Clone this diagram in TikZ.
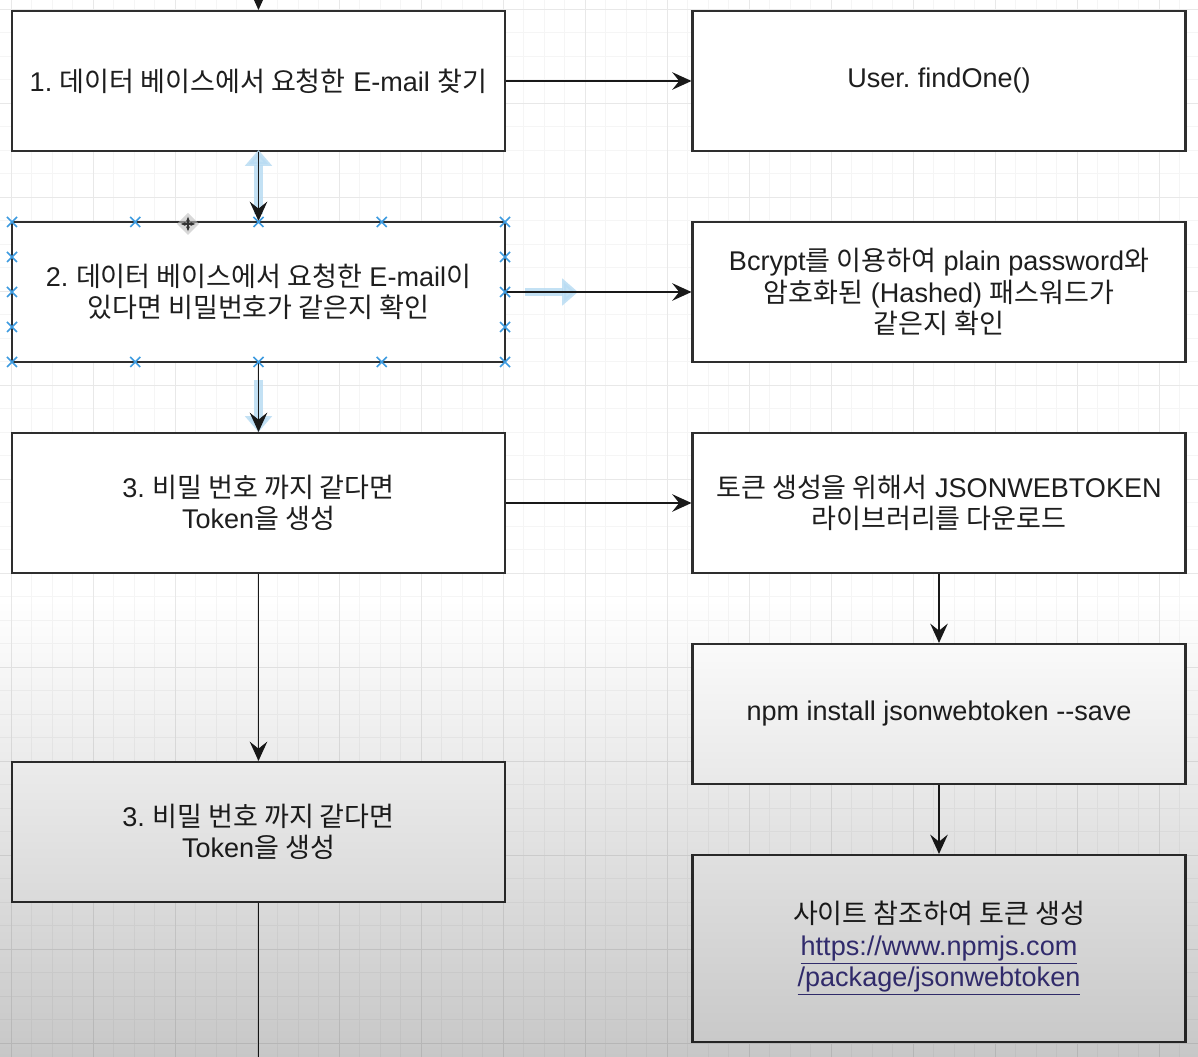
\documentclass[tikz,border=0pt]{standalone}
\usepackage{fontspec}
\setmainfont{Liberation Sans}
\newfontfamily\kr{Noto Sans CJK KR}
\newcommand\ko[1]{{\kr #1}}
\newcommand\weblink[1]{\textcolor{linkcol}{\underline{#1}}}
\usetikzlibrary{arrows.meta,positioning,fadings}
\definecolor{linkcol}{HTML}{3B3482}
\definecolor{edgecol}{HTML}{2E2E2E}
\definecolor{textcol}{HTML}{1E1E1E}
\definecolor{selcol}{HTML}{3D9BE0}
\definecolor{hintcol}{HTML}{B9DCF3}
\frenchspacing
\tikzset{
    box/.style={draw=edgecol, line width=1.2pt, fill=white, align=center, text=textcol,
        minimum width=9.86cm, minimum height=2.8cm, inner sep=0pt,
        font=\fontsize{15.4pt}{17.9pt}\selectfont},
    arr/.style={draw=black!90, line width=0.9pt, -{Stealth[length=11pt,width=10pt,inset=4pt]}},
    hint/.style={draw=hintcol, line width=5pt, opacity=0.85, -{Triangle[length=9pt,width=15pt]}},
    handle/.style={draw=selcol, line width=0.9pt}
}
\begin{document}
\begin{tikzpicture}[x=0.02cm, y=-0.02cm]
    \useasboundingbox (0,0) rectangle (1198,1057);
    \fill[white] (0,0) rectangle (1198,1057);

    % grid
    \foreach \x in {-9.5,11,...,1200} \draw[black!4, line width=0.4pt] (\x,0) -- (\x,1057);
    \foreach \y in {9,32.5,...,1060} \draw[black!4, line width=0.4pt] (0,\y) -- (1198,\y);
    \foreach \x in {11,93,...,1200} \draw[black!9, line width=0.5pt] (\x,0) -- (\x,1057);
    \foreach \y in {9,103,...,1060} \draw[black!9, line width=0.5pt] (0,\y) -- (1198,\y);

    % steps on the left
    \node[box] (step1) at (258.5,81) {1. \ko{데이터 베이스에서 요청한} E-mail \ko{찾기}};
    \node[box] (step2) at (258.5,292) {2. \ko{데이터 베이스에서 요청한} E-mail\ko{이}\\ \ko{있다면 비밀번호가 같은지 확인}};
    \node[box] (step3) at (258.5,503) {3. \ko{비밀 번호 까지 같다면}\\ Token\ko{을 생성}};
    \node[box] (step4) at (258.5,832) {3. \ko{비밀 번호 까지 같다면}\\ Token\ko{을 생성}};

    % what each step uses
    \node[box] (find) at (939,81) {User. findOne()};
    \node[box] (bcrypt) at (939,292) {Bcrypt\ko{를 이용하여} plain password\ko{와}\\ \ko{암호화된} (Hashed) \ko{패스워드가}\\ \ko{같은지 확인}};
    \node[box] (jwt) at (939,503) {\ko{토큰 생성을 위해서} JSONWEBTOKEN\\ \ko{라이브러리를 다운로드}};
    \node[box] (npm) at (939,714) {npm install jsonwebtoken -{}-save};
    \node[box, minimum height=3.74cm] (site) at (939,948.5) {\ko{사이트 참조하여 토큰 생성}\\ \weblink{https://www.npmjs.com}\\ \weblink{/package/jsonwebtoken}};

    \coordinate (top) at (258.5,-5);
    \coordinate (bottom) at (258.5,1062);

    % hover hints of the editor
    \draw[hint] (258.5,214) -- (258.5,150);
    \draw[hint] (525,292) -- (578,292);
    \draw[hint] (258.5,380) -- (258.5,432);

    \draw[arr] (top) -- (step1);
    \draw[arr] (step1) -- (find);
    \draw[arr] (step1) -- (step2);
    \draw[arr] (step2) -- (bcrypt);
    \draw[arr] (step2) -- (step3);
    \draw[arr] (step3) -- (jwt);
    \draw[arr] (step3) -- (step4);
    \draw[arr] (jwt) -- (npm);
    \draw[arr] (npm) -- (site);
    \draw[draw=black!90, line width=0.9pt] (step4) -- (bottom);

    % selection handles on step 2
    \foreach \x in {12,135.25,258.5,381.75,505}
        \foreach \y in {222,362}
            \draw[handle] (\x-5,\y-5) -- (\x+5,\y+5) (\x-5,\y+5) -- (\x+5,\y-5);
    \foreach \x in {12,505}
        \foreach \y in {257,292,327}
            \draw[handle] (\x-5,\y-5) -- (\x+5,\y+5) (\x-5,\y+5) -- (\x+5,\y-5);

    % move cursor
    \fill[black!25, opacity=0.6] (188,213) -- (199,224) -- (188,235) -- (177,224) -- cycle;
    \draw[black!80, line width=0.7pt, {Latex[length=3pt]}-{Latex[length=3pt]}] (180,224) -- (196,224);
    \draw[black!80, line width=0.7pt, {Latex[length=3pt]}-{Latex[length=3pt]}] (188,216) -- (188,232);

    % darker lower part of the screen
    \fill[black, opacity=0.22, path fading=north] (0,600) rectangle (1198,1057);
\end{tikzpicture}
\end{document}
